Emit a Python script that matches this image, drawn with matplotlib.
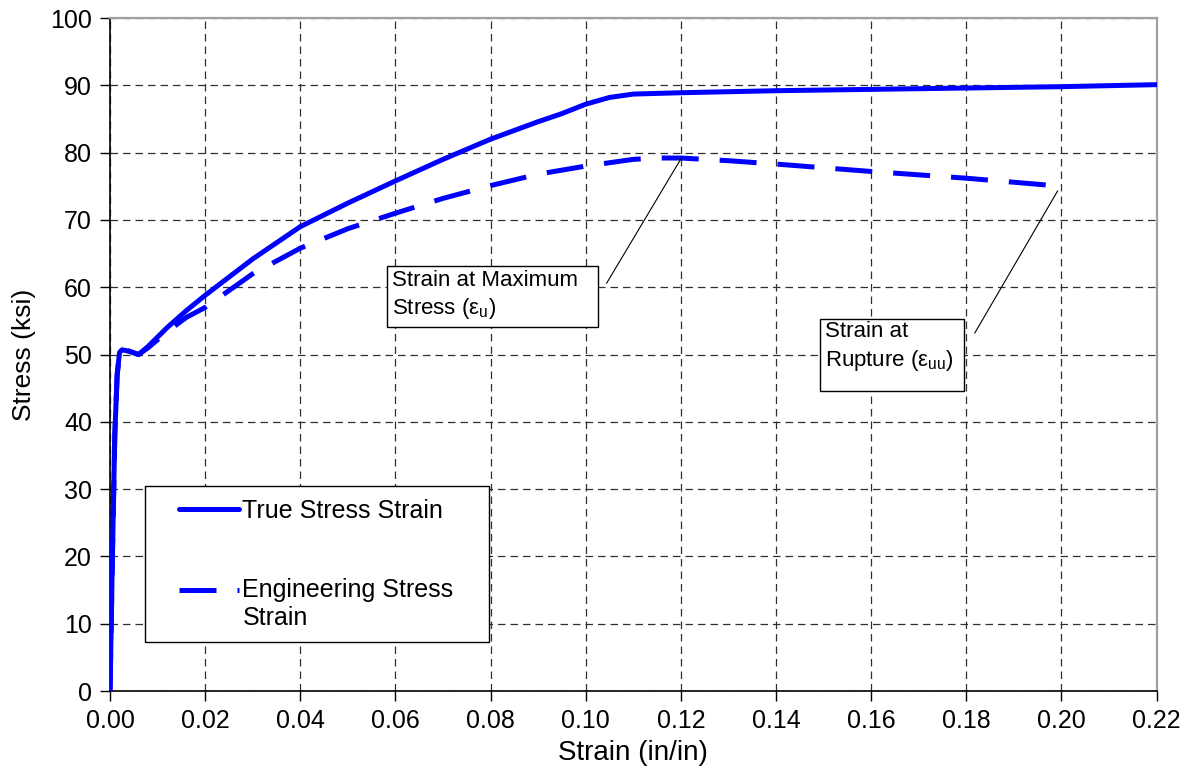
import numpy as np
import matplotlib
matplotlib.use('Agg')
import matplotlib.pyplot as plt
from matplotlib.patches import Rectangle
from matplotlib.legend_handler import HandlerLine2D

plt.rcParams['font.family'] = ['Liberation Sans', 'DejaVu Sans']
plt.rcParams['mathtext.default'] = 'regular'

# true stress-strain curve
true_strain = [0.0, 0.0005, 0.001, 0.0015, 0.002, 0.0025, 0.004, 0.006, 0.008, 0.012, 0.016, 0.02,
               0.03, 0.04, 0.05, 0.06, 0.07, 0.08, 0.09, 0.095, 0.10, 0.105, 0.11, 0.115, 0.12,
               0.14, 0.16, 0.18, 0.20, 0.22]
true_stress = [0.0, 20.0, 38.0, 47.0, 50.3, 50.7, 50.5, 50.0, 51.2, 54.0, 56.5, 58.8,
               64.2, 69.0, 72.5, 75.8, 79.0, 82.0, 84.6, 85.8, 87.2, 88.2, 88.7, 88.8, 88.9,
               89.2, 89.4, 89.6, 89.8, 90.1]

# engineering stress-strain curve
eng_strain = [0.0, 0.0005, 0.001, 0.0015, 0.002, 0.0025, 0.004, 0.006, 0.008, 0.012, 0.016, 0.02,
              0.03, 0.04, 0.05, 0.06, 0.07, 0.08, 0.09, 0.10, 0.11, 0.115, 0.12,
              0.13, 0.14, 0.16, 0.18, 0.20]
eng_stress = [0.0, 20.0, 38.0, 47.0, 50.3, 50.7, 50.5, 50.0, 51.0, 53.4, 55.5, 57.0,
              62.0, 65.8, 68.7, 71.0, 73.2, 75.1, 76.8, 78.0, 79.0, 79.2, 79.2,
              78.8, 78.3, 77.2, 76.2, 75.0]

# callout boxes (x0, x1, y0, y1 in data units) and leader lines
box1 = (0.0582, 0.1025, 54.1, 63.15)
box2 = (0.1492, 0.1795, 44.6, 55.3)
lead1_x, lead1_y = [0.1044, 0.1202], [60.6, 79.3]
lead2_x, lead2_y = [0.1818, 0.1992], [53.2, 74.3]


class ShiftedLine(HandlerLine2D):
    # legend handle moved up so it sits next to the first text line
    def __init__(self, dy=0, **kw):
        super().__init__(**kw)
        self.dy = dy

    def create_artists(self, *args, **kw):
        arts = super().create_artists(*args, **kw)
        for a in arts:
            a.set_ydata(np.asarray(a.get_ydata()) + self.dy)
        return arts


fig = plt.figure(figsize=(11.96, 7.84), dpi=100)
ax = fig.add_axes([0.092, 0.1186, 0.875, 0.8584])

l1, = ax.plot(true_strain, true_stress, color='#0000FF', lw=3.6, solid_capstyle='round',
              label='True Stress Strain', zorder=3)
l2, = ax.plot(eng_strain, eng_stress, color='#0000FF', lw=3.6, dashes=(7.4, 4.2),
              dash_capstyle='butt', label='Engineering Stress\nStrain', zorder=3)

ax.set_xlim(0, 0.22)
ax.set_ylim(0, 100)
xt = np.arange(0, 0.2201, 0.02)
ax.set_xticks(xt)
ax.set_xticklabels(['%.2f' % v for v in xt])
ax.set_yticks(range(0, 101, 10))
ax.tick_params(labelsize=18, direction='out', length=7, width=1, color='black', pad=6)
ax.grid(True, color='#303030', ls=(0, (6, 4)), lw=0.9)
for s in ['top', 'right']:
    ax.spines[s].set_color('#a0a0a0')
    ax.spines[s].set_linewidth(1.6)
ax.spines['left'].set_linewidth(1.2)
ax.spines['bottom'].set_linewidth(1.2)
ax.set_xlabel('Strain (in/in)', fontsize=20, labelpad=5)
ax.set_ylabel('Stress (ksi)', fontsize=19, labelpad=10)

leg = ax.legend(loc='lower left', bbox_to_anchor=(0.0334, 0.0728, 0.3286, 0.229),
                mode='expand', fontsize=18,
                frameon=True, fancybox=False, edgecolor='black', framealpha=1,
                handlelength=3.25, handletextpad=0.15, labelspacing=2.2,
                borderpad=0.5, borderaxespad=0,
                handler_map={l1: ShiftedLine(xpad=0.85),
                             l2: ShiftedLine(dy=10, xpad=0.85)})
leg.get_frame().set_linewidth(1.0)

# callouts
for b in [box1, box2]:
    ax.add_patch(Rectangle((b[0], b[2]), b[1] - b[0], b[3] - b[2], fc='white',
                           ec='black', lw=1.0, zorder=4))
ax.text(0.0593, 58.8, 'Strain at Maximum\nStress (ε$_{u}$)', fontsize=16,
        ha='left', va='center', linespacing=1.3, zorder=5)
ax.text(0.1502, 51.1, 'Strain at\nRupture (ε$_{uu}$)', fontsize=16,
        ha='left', va='center', linespacing=1.3, zorder=5)
ax.plot(lead1_x, lead1_y, color='black', lw=0.8, zorder=4)
ax.plot(lead2_x, lead2_y, color='black', lw=0.8, zorder=4)

fig.savefig('out.png', dpi=100)
